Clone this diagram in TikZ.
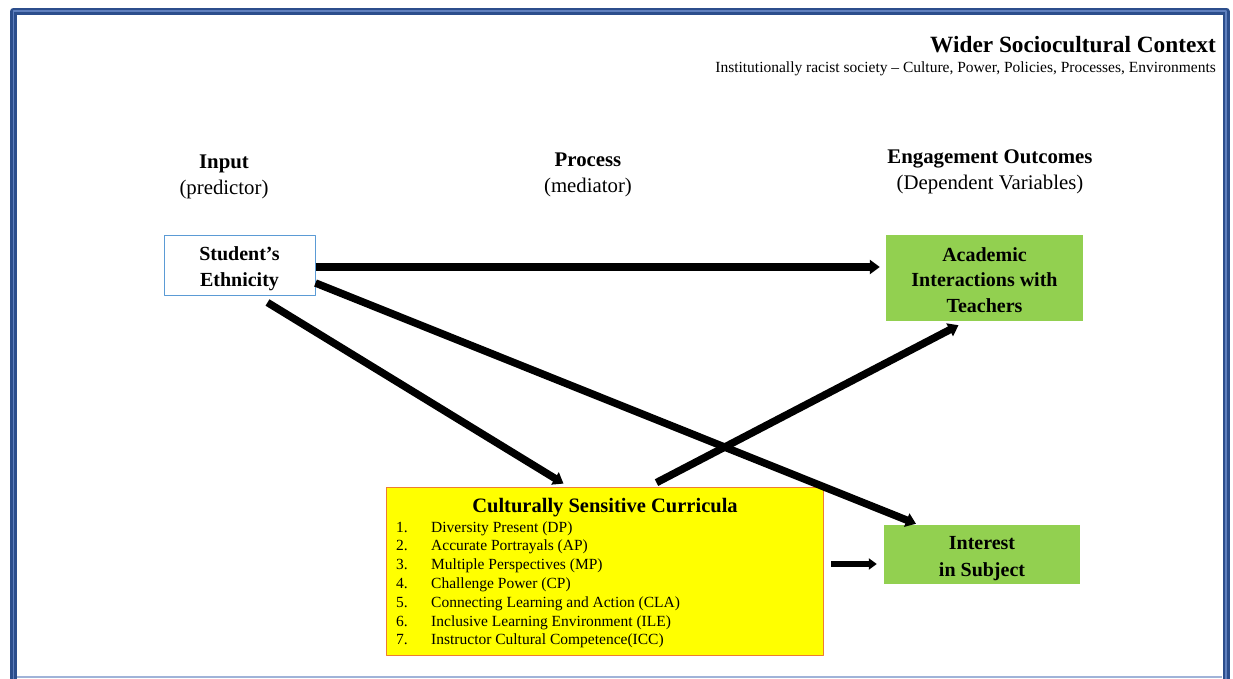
\documentclass[tikz,border=0pt]{standalone}
\usepackage{fontspec}
\setmainfont{Liberation Serif}
\usetikzlibrary{arrows.meta}
\definecolor{framebl}{RGB}{44,78,140}
\definecolor{framelt}{RGB}{96,128,190}
\definecolor{ethbl}{RGB}{91,155,213}
\definecolor{outgreen}{RGB}{146,208,80}
\definecolor{cscyel}{RGB}{255,255,0}
\definecolor{cscred}{RGB}{237,125,49}

\begin{document}
\begin{tikzpicture}[x=1pt,y=-1pt, line join=round,
	box/.style={inner sep=0pt, align=center, font=\bfseries\fontsize{20}{26}\selectfont},
	head/.style={align=center, font=\fontsize{20.8}{25.5}\selectfont},
	item/.style={inner sep=0pt, font=\fontsize{15.5}{18}\selectfont},
	arr/.style={line width=7.5pt, -{Triangle[length=10pt,width=14pt]}}]
	\useasboundingbox (0,0) rectangle (1233,678);
	% frame
	\draw[framebl, line width=7pt] (13.5,11) rectangle (1226,700);
	\draw[framelt, line width=1.2pt] (13.5,11) rectangle (1226,700);
	\draw[framelt!60, line width=2pt] (17,677) -- (1222,677);
	% context
	\node[anchor=base east, inner sep=0pt, font=\bfseries\fontsize{23.3}{27}\selectfont] (ctx) at (1216,52) {Wider Sociocultural Context};
	\node[anchor=base east, inner sep=0pt, font=\fontsize{15.5}{18}\selectfont] (ctxsub) at (1216,72) {Institutionally racist society -- Culture, Power, Policies, Processes, Environments};
	% column heads
	\node[head] (inlab) at (224,177) {\textbf{Input}\\(predictor)};
	\node[head] (proclab) at (588,175) {\textbf{Process}\\(mediator)};
	\node[head] (outlab) at (990,172) {\textbf{Engagement Outcomes}\\(Dependent Variables)};
	% boxes
	\node[box, draw=ethbl, line width=1pt, fill=white, minimum width=151pt, minimum height=60pt] (eth) at (239.5,265) {\rule{0pt}{22pt}Student's\\Ethnicity};
	\node[box, fill=outgreen, minimum width=197pt, minimum height=86pt, font=\bfseries\fontsize{20}{25.5}\selectfont] (acad) at (984.5,278) {\rule{0pt}{18pt}Academic\\Interactions with\\Teachers};
	\node[box, fill=outgreen, minimum width=196pt, minimum height=59pt, font=\bfseries\fontsize{20}{27}\selectfont] (intr) at (982,554.5) {\rule{0pt}{22pt}Interest\\in Subject};
	\node[draw=cscred, fill=cscyel, line width=0.8pt, minimum width=437pt, minimum height=168pt] (csc) at (604.5,571) {};
	\node[anchor=base, inner sep=0pt, font=\bfseries\fontsize{20.5}{24}\selectfont] (csctitle) at (605,512) {Culturally Sensitive Curricula};
	\foreach \itm [count=\i] in {Diversity Present (DP), Accurate Portrayals (AP), Multiple Perspectives (MP), Challenge Power (CP), Connecting Learning and Action (CLA), Inclusive Learning Environment (ILE), Instructor Cultural Competence(ICC)}{
		\node[item, anchor=base west] (num\i) at (396,{532+18.83*(\i-1)}) {\i.};
		\node[item, anchor=base west] (itm\i) at (431,{532+18.83*(\i-1)}) {\itm};
	}
	% arrows
	\draw[arr] ([yshift=-2pt]eth.east) -- ([xshift=-6pt,yshift=-2pt]eth.east -| acad.west);
	\draw[arr] ([yshift=-18pt]eth.east) -- ([xshift=-66pt,yshift=1pt]intr.north);
	\draw[arr] ([xshift=28pt,yshift=-7pt]eth.south) -- ([xshift=-41pt,yshift=3pt]csc.north);
	\draw[arr] ([xshift=52pt,yshift=4pt]csc.north) -- ([xshift=-26pt,yshift=-4pt]acad.south);
	\draw[line width=5.5pt, -{Triangle[length=8pt,width=11pt]}] ([xshift=8pt,yshift=7pt]csc.east) -- ([xshift=-7pt,yshift=-9.5pt]intr.west);
\end{tikzpicture}
\end{document}
